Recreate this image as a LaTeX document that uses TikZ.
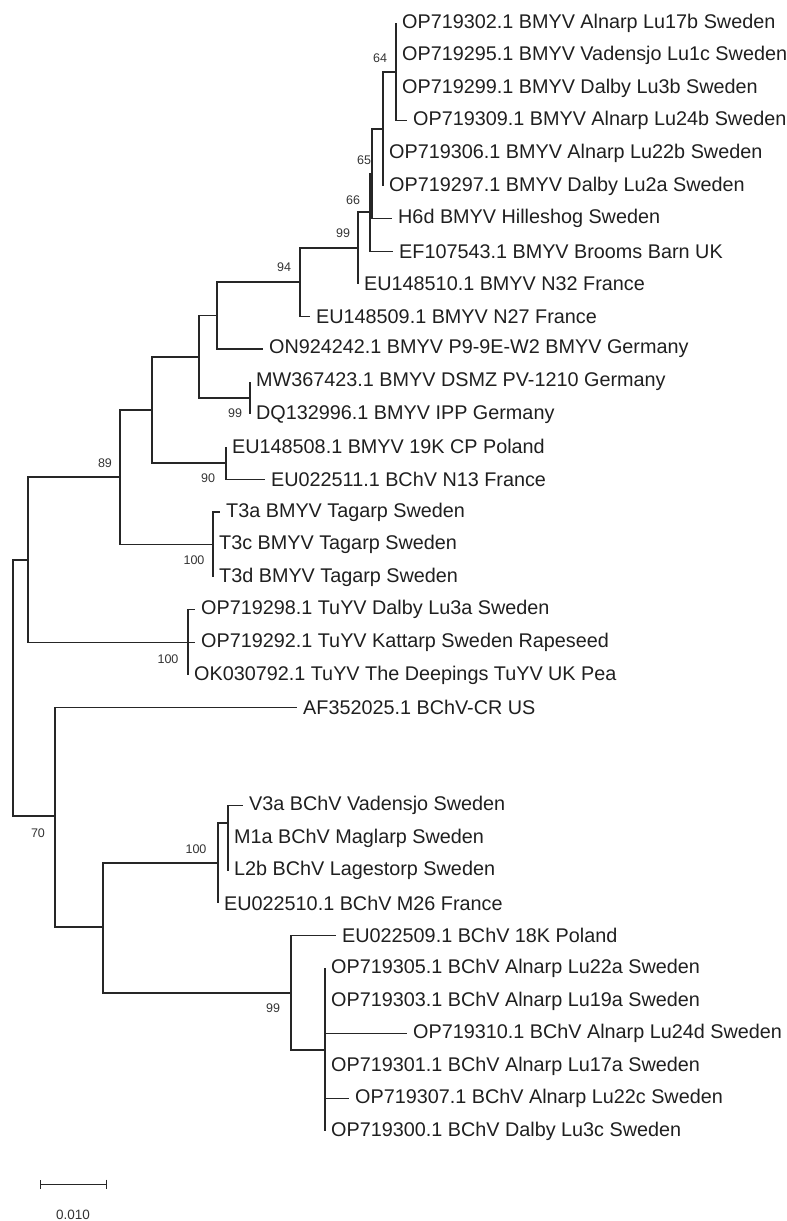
\documentclass[tikz,border=0pt]{standalone}
\usepackage{fontspec}
\setmainfont{Liberation Sans}
\usetikzlibrary{arrows.meta}
\begin{document}
\begin{tikzpicture}[x=1pt,y=-1pt,
  br/.style={draw=black!85,line width=1.1pt},
  lf/.style={anchor=west,inner xsep=6pt,inner ysep=0pt,text=black!88,font=\fontsize{19.8}{20}\selectfont},
  bs/.style={inner sep=0pt,text=black!80,font=\fontsize{12.5}{13}\selectfont},
  ]
\useasboundingbox (0,0) rectangle (787,1221);
% internal nodes
\coordinate (n64) at (396,72);
\coordinate (nP) at (383,129);
\coordinate (n65) at (372,174);
\coordinate (n66) at (370,212);
\coordinate (n99a) at (358,248);
\coordinate (n94) at (300,282);
\coordinate (nA) at (217,315.5);
\coordinate (nMW) at (250,398);
\coordinate (nB) at (199,357);
\coordinate (n90) at (226,463);
\coordinate (nC) at (152,410);
\coordinate (nT3) at (213,544.6);
\coordinate (n89) at (120,477);
\coordinate (nTu) at (188,642.4);
\coordinate (nD) at (28,560);
\coordinate (root) at (13,688);
\coordinate (n70) at (55,816);
\coordinate (nE) at (103,927);
\coordinate (n100b) at (218,863);
\coordinate (nV) at (228,823);
\coordinate (n99b) at (291,993);
\coordinate (nF) at (325,1050);
% leaves
\node[lf] (l1) at (396,23) {OP719302.1 BMYV Alnarp Lu17b Sweden};
\node[lf] (l2) at (396,55.6) {OP719295.1 BMYV Vadensjo Lu1c Sweden};
\node[lf] (l3) at (396,88.2) {OP719299.1 BMYV Dalby Lu3b Sweden};
\node[lf] (l4) at (407,120.8) {OP719309.1 BMYV Alnarp Lu24b Sweden};
\node[lf] (l5) at (383,153.4) {OP719306.1 BMYV Alnarp Lu22b Sweden};
\node[lf] (l6) at (383,186) {OP719297.1 BMYV Dalby Lu2a Sweden};
\node[lf] (l7) at (392,218.6) {H6d BMYV Hilleshog Sweden};
\node[lf] (l8) at (393,251.2) {EF107543.1 BMYV Brooms Barn UK};
\node[lf] (l9) at (358,283.8) {EU148510.1 BMYV N32 France};
\node[lf] (l10) at (310,316.4) {EU148509.1 BMYV N27 France};
\node[lf] (l11) at (263,349) {ON924242.1 BMYV P9-9E-W2 BMYV Germany};
\node[lf] (l12) at (250,381.6) {MW367423.1 BMYV DSMZ PV-1210 Germany};
\node[lf] (l13) at (250,414.2) {DQ132996.1 BMYV IPP Germany};
\node[lf] (l14) at (226,446.8) {EU148508.1 BMYV 19K CP Poland};
\node[lf] (l15) at (265,479.4) {EU022511.1 BChV N13 France};
\node[lf] (l16) at (220,512) {T3a BMYV Tagarp Sweden};
\node[lf] (l17) at (213,544.6) {T3c BMYV Tagarp Sweden};
\node[lf] (l18) at (213,577.2) {T3d BMYV Tagarp Sweden};
\node[lf] (l19) at (195,609.8) {OP719298.1 TuYV Dalby Lu3a Sweden};
\node[lf] (l20) at (195,642.4) {OP719292.1 TuYV Kattarp Sweden Rapeseed};
\node[lf] (l21) at (188,675) {OK030792.1 TuYV The Deepings TuYV UK Pea};
\node[lf] (l22) at (297,707.6) {AF352025.1 BChV-CR US};
\node[lf] (l23) at (243,805.4) {V3a BChV Vadensjo Sweden};
\node[lf] (l24) at (228,838) {M1a BChV Maglarp Sweden};
\node[lf] (l25) at (228,870.6) {L2b BChV Lagestorp Sweden};
\node[lf] (l26) at (218,903.2) {EU022510.1 BChV M26 France};
\node[lf] (l27) at (336,935.8) {EU022509.1 BChV 18K Poland};
\node[lf] (l28) at (325,968.4) {OP719305.1 BChV Alnarp Lu22a Sweden};
\node[lf] (l29) at (325,1001) {OP719303.1 BChV Alnarp Lu19a Sweden};
\node[lf] (l30) at (407,1033.6) {OP719310.1 BChV Alnarp Lu24d Sweden};
\node[lf] (l31) at (325,1066.2) {OP719301.1 BChV Alnarp Lu17a Sweden};
\node[lf] (l32) at (349,1098.8) {OP719307.1 BChV Alnarp Lu22c Sweden};
\node[lf] (l33) at (325,1131.4) {OP719300.1 BChV Dalby Lu3c Sweden};
% branches
\path[br] (n64) |- (l1.west) (n64) |- (l2.west) (n64) |- (l3.west) (n64) |- (l4.west);
\path[br] (nP) |- (n64) (nP) |- (l5.west) (nP) |- (l6.west);
\path[br] (n65) |- (nP) (n65) |- (l7.west);
\path[br] (n66) |- (n65) (n66) |- (l8.west);
\path[br] (n99a) |- (n66) (n99a) |- (l9.west);
\path[br] (n94) |- (n99a) (n94) |- (l10.west);
\path[br] (nA) |- (n94) (nA) |- (l11.west);
\path[br] (nMW) |- (l12.west) (nMW) |- (l13.west);
\path[br] (nB) |- (nA) (nB) |- (nMW);
\path[br] (n90) |- (l14.west) (n90) |- (l15.west);
\path[br] (nC) |- (nB) (nC) |- (n90);
\path[br] (nT3) |- (l16.west) (nT3) |- (l17.west) (nT3) |- (l18.west);
\path[br] (n89) |- (nC) (n89) |- (nT3);
\path[br] (nTu) |- (l19.west) (nTu) |- (l20.west) (nTu) |- (l21.west);
\path[br] (nD) |- (n89) (nD) |- (nTu);
\path[br] (root) |- (nD) (root) |- (n70);
\path[br] (nV) |- (l23.west) (nV) |- (l24.west) (nV) |- (l25.west);
\path[br] (n100b) |- (nV) (n100b) |- (l26.west);
\path[br] (nF) |- (l28.west) (nF) |- (l29.west) (nF) |- (l30.west) (nF) |- (l31.west) (nF) |- (l32.west) (nF) |- (l33.west);
\path[br] (n99b) |- (l27.west) (n99b) |- (nF);
\path[br] (nE) |- (n100b) (nE) |- (n99b);
\path[br] (n70) |- (l22.west) (n70) |- (nE);
% bootstrap values
\node[bs] (b64) at (380,58) {64};
\node[bs] (b65) at (364,160) {65};
\node[bs] (b66) at (353,200) {66};
\node[bs] (b99a) at (343,233) {99};
\node[bs] (b94) at (284,267) {94};
\node[bs] (b99c) at (235,413) {99};
\node[bs] (b90) at (208,478) {90};
\node[bs] (b89) at (105,463) {89};
\node[bs] (b100a) at (194,560) {100};
\node[bs] (b100b) at (168,659) {100};
\node[bs] (b70) at (38,833) {70};
\node[bs] (b100c) at (196,849) {100};
\node[bs] (b99b) at (273,1008) {99};
% scale bar
\coordinate (sb1) at (40,1184);
\coordinate (sb2) at (107,1184);
\draw[br,line width=1pt,{Bar[width=9pt]}-{Bar[width=9pt]}] (sb1) -- (sb2);
\node[bs,font=\fontsize{13.5}{14}\selectfont] (sbl) at (73,1215) {0.010};
\end{tikzpicture}
\end{document}
